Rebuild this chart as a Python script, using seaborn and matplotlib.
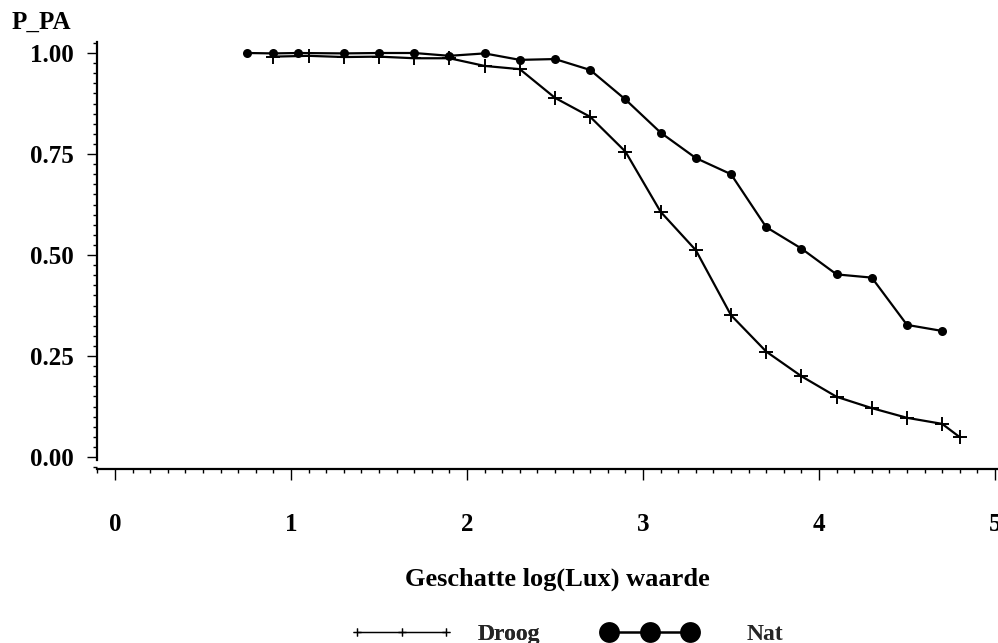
import matplotlib
matplotlib.use("Agg")
import matplotlib.pyplot as plt
from matplotlib.lines import Line2D
from matplotlib.ticker import MultipleLocator, FixedLocator
import seaborn as sns
import numpy as np

# ---- data ----
droog_x = [0.9, 1.1, 1.3, 1.5, 1.7, 1.9, 2.1, 2.3, 2.5, 2.7, 2.9, 3.1, 3.3, 3.5,
           3.7, 3.9, 4.1, 4.3, 4.5, 4.7, 4.8]
droog_y = [0.991, 0.993, 0.990, 0.991, 0.987, 0.987, 0.968, 0.960, 0.889, 0.842,
           0.756, 0.607, 0.512, 0.351, 0.261, 0.200, 0.149, 0.121, 0.097, 0.082, 0.049]
nat_x = [0.75, 0.9, 1.04, 1.3, 1.5, 1.7, 1.9, 2.1, 2.3, 2.5, 2.7, 2.9, 3.1, 3.3,
         3.5, 3.7, 3.9, 4.1, 4.3, 4.5, 4.7]
nat_y = [1.000, 0.999, 1.000, 0.999, 1.000, 1.000, 0.993, 0.999, 0.983, 0.985,
         0.958, 0.885, 0.803, 0.740, 0.700, 0.569, 0.516, 0.452, 0.444, 0.327, 0.312]
x_ticks = [0, 1, 2, 3, 4, 5]
y_ticks = [0.0, 0.25, 0.5, 0.75, 1.0]
y_ticklabels = ["0.00", "0.25", "0.50", "0.75", "1.00"]
x_title = "Geschatte log(Lux) waarde"
y_title = "P_PA"
series_names = ["Droog", "Nat"]

sns.set_theme(style="white")
plt.rcParams["font.family"] = ["Liberation Serif", "DejaVu Serif"]
plt.rcParams["font.weight"] = "bold"

W, H = 998, 643
fig = plt.figure(figsize=(W / 100, H / 100), dpi=100)
fig.patch.set_facecolor("white")

# axes placement (pixels)
left_px, right_px, top_px, bottom_px = 97, 998, 42, 469
ax = fig.add_axes([left_px / W, 1 - bottom_px / H,
                   (right_px - left_px) / W, (bottom_px - top_px) / H])
ax.set_facecolor("white")

sns.lineplot(x=droog_x, y=droog_y, ax=ax, color="black", marker="+",
             markersize=10, markeredgewidth=1.4, markeredgecolor="black",
             linewidth=1.6, sort=False)
sns.lineplot(x=nat_x, y=nat_y, ax=ax, color="black", marker="o",
             markersize=6.5, markeredgewidth=0, markeredgecolor="black",
             linewidth=1.6, sort=False)

# data scale: x=0 at px 115, 176 px per unit; y=0 at px 457, 404 px per unit
x0, xs = 115, 176
y0, ys = 457, 404
ax.set_xlim((left_px - x0) / xs, (right_px - x0) / xs)
ax.set_ylim((y0 - bottom_px) / ys, (y0 - top_px) / ys)

for s in ["top", "right"]:
    ax.spines[s].set_visible(False)
for s in ["left", "bottom"]:
    ax.spines[s].set_color("black")
    ax.spines[s].set_linewidth(1.6)
ax.spines["left"].set_bounds((y0 - 460) / ys, (y0 - top_px) / ys)

ax.xaxis.set_major_locator(FixedLocator(x_ticks))
ax.xaxis.set_minor_locator(MultipleLocator(0.1))
ax.yaxis.set_major_locator(FixedLocator(y_ticks))
ax.yaxis.set_minor_locator(MultipleLocator(0.025))
ax.set_yticklabels(y_ticklabels)
ax.set_xticklabels([str(t) for t in x_ticks])

ax.tick_params(axis="both", which="both", direction="out", color="black",
               width=1.0, bottom=True, left=True)
ax.tick_params(axis="x", which="major", length=8, pad=24, labelsize=18)
ax.tick_params(axis="x", which="minor", length=3)
ax.tick_params(axis="y", which="major", length=7, pad=10, labelsize=18)
ax.tick_params(axis="y", which="minor", length=3)
for lab in ax.get_xticklabels() + ax.get_yticklabels():
    lab.set_fontweight("bold")
    lab.set_color("black")
ax.grid(False)

ax.set_xlabel(x_title, fontsize=19, fontweight="bold", color="black", va="center")
ax.xaxis.set_label_coords((557 - left_px) / (right_px - left_px),
                          (bottom_px - 579) / (bottom_px - top_px))
ax.set_ylabel("")
fig.text(12 / W, 1 - 22 / H, y_title, fontsize=18, fontweight="bold",
         ha="left", va="center", color="black")

# legend (two separate entries placed like the reference)
prop = dict(family="Liberation Serif", weight="bold", size=17)
h1 = Line2D([], [], color="black", linewidth=0.9, marker="+", markersize=6,
            markeredgewidth=0.9)
h2 = Line2D([], [], color="black", linewidth=1.8, marker="o", markersize=15,
            markeredgewidth=0)
leg1 = fig.legend(handles=[h1], labels=[series_names[0]], loc="center left",
                  bbox_to_anchor=(350 / W, 1 - 634 / H), frameon=False,
                  borderpad=0, borderaxespad=0, handlelength=103 / 23.6,
                  handletextpad=25 / 23.6, numpoints=3, prop=prop)
leg2 = fig.legend(handles=[h2], labels=[series_names[1]], loc="center left",
                  bbox_to_anchor=(602 / W, 1 - 634 / H), frameon=False,
                  borderpad=0, borderaxespad=0, handlelength=95 / 23.6,
                  handletextpad=50 / 23.6, numpoints=3, prop=prop)
fig.add_artist(leg1)

fig.savefig("out.png", dpi=100, facecolor="white")
